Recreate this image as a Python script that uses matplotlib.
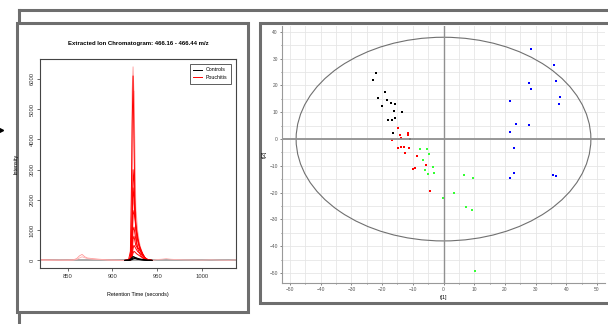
import matplotlib.pyplot as plt
from matplotlib.patches import Rectangle, Ellipse
from matplotlib.lines import Line2D

W, H = 608, 324

# --- chromatogram data ---
peak_t = [914, 918, 920, 921, 922, 923, 924, 925, 926, 927, 928, 930, 932, 934, 936, 938, 940, 944]
light_traces = [
    [0, 20, 200, 1500, 5600, 6400, 5500, 3800, 1800, 900, 600, 400, 250, 150, 80, 40, 20, 0],
    [0, 10, 100, 800, 2500, 4500, 5600, 2200, 1500, 1100, 800, 500, 300, 200, 100, 50, 20, 0],
    [0, 10, 60, 300, 900, 1800, 2000, 1700, 1600, 1400, 1000, 600, 350, 200, 100, 50, 20, 0],
]
red_traces = [
    [0, 30, 300, 2000, 4500, 6100, 4000, 2000, 1000, 600, 400, 250, 150, 80, 40, 20, 10, 0],
    [0, 10, 100, 500, 1500, 3000, 2600, 1800, 1200, 900, 700, 450, 300, 200, 100, 50, 20, 0],
    [0, 10, 80, 300, 1200, 2400, 2100, 1500, 1200, 1000, 800, 500, 350, 200, 100, 50, 20, 0],
    [0, 5, 50, 200, 700, 1500, 1650, 1400, 1100, 900, 700, 450, 300, 150, 80, 40, 20, 0],
    [0, 5, 40, 150, 500, 1000, 1100, 900, 700, 550, 450, 350, 250, 150, 80, 40, 10, 0],
    [0, 5, 30, 100, 300, 700, 800, 650, 500, 450, 400, 380, 300, 200, 100, 50, 10, 0],
    [0, 5, 20, 80, 200, 400, 500, 450, 400, 350, 300, 250, 200, 150, 80, 40, 10, 0],
    [0, 0, 10, 40, 120, 250, 300, 280, 250, 220, 200, 160, 120, 80, 50, 20, 10, 0],
]
black_traces = [
    [0, 5, 20, 40, 60, 80, 90, 100, 90, 80, 70, 50, 40, 30, 20, 10, 5, 0],
    [0, 0, 10, 20, 30, 50, 60, 70, 60, 50, 40, 30, 20, 15, 10, 5, 0, 0],
    [0, 10, 40, 70, 100, 130, 120, 100, 80, 60, 50, 40, 30, 20, 10, 5, 0, 0],
]
base_t = [820, 830, 840, 850, 856, 860, 863, 866, 869, 872, 878, 885, 895, 905, 914]
base_pink = [30, 20, 10, 15, 20, 60, 150, 200, 120, 80, 60, 40, 20, 10, 0]
base_pink2 = [0, 0, 10, 5, 10, 30, 80, 120, 90, 60, 40, 30, 10, 5, 0]
tail_t = [944, 950, 955, 960, 965, 970, 980, 990, 1000, 1010, 1020, 1030, 1038]
tail_pink = [0, 30, 40, 60, 40, 30, 20, 15, 10, 20, 10, 5, 20]

# --- score plot data ---
black_x = [-23.0, -22.1, -21.2, -20.0, -19.2, -18.5, -18.2, -17.2, -16.8, -16.3, -16.0, -15.9, -15.8, -13.5, -10.9]
black_y = [21.9, 24.5, 15.5, 12.3, 17.7, 14.6, 7.3, 13.5, 7.2, 2.1, 10.5, 7.7, 13.0, 10.0, 0.0]
red_x = [-14.9, -14.2, -13.9, -16.7, -14.9, -13.9, -12.9, -12.4, -11.5, -11.4, -11.2, -8.7, -9.9, -9.3, -5.8, -4.3]
red_y = [4.3, 1.6, 0.5, -0.4, -3.5, -3.1, -3.1, -5.1, 2.1, 1.6, -3.2, -6.3, -11.2, -10.8, -9.5, -19.5]
green_x = [-7.6, -5.4, -4.7, -6.7, -3.5, -6.0, -5.0, -3.0, 6.8, 9.6, 3.5, -0.1, 7.3, 9.3, 10.2]
green_y = [-3.6, -3.6, -5.6, -7.9, -10.4, -11.6, -12.9, -12.6, -13.5, -14.4, -20.3, -21.8, -25.3, -26.4, -49.1]
blue_x = [28.5, 35.9, 36.7, 27.8, 28.4, 38.0, 37.7, 21.5, 23.6, 27.7, 21.6, 22.9, 22.9, 21.5, 35.8, 36.7]
blue_y = [33.8, 27.8, 21.8, 21.1, 18.8, 15.7, 13.0, 14.3, 5.8, 5.1, 2.5, -3.3, -12.8, -14.6, -13.4, -13.9]
ellipse_a, ellipse_b = 48, 38


def box(x0, y0, x1, y1):
    return [x0 / W, 1 - y1 / H, (x1 - x0) / W, (y1 - y0) / H]


fig = plt.figure(figsize=(W / 100, H / 100), dpi=100)
plt.rcParams['font.family'] = ['Liberation Sans Narrow', 'Liberation Sans', 'DejaVu Sans']

# frame decorations (kept under the axes)
frame = '#6e6e6e'
fig.add_artist(Line2D([19 / W, 1], [1 - 10 / H] * 2, color=frame, lw=2.2, zorder=-3))
fig.add_artist(Line2D([19 / W] * 2, [1 - 10 / H, 0], color=frame, lw=2.2, zorder=-3))
fig.add_artist(Rectangle((17 / W, 1 - 312 / H), 231 / W, 289 / H, transform=fig.transFigure,
                         facecolor='white', edgecolor=frame, lw=2.2, zorder=-2))
fig.add_artist(Rectangle((260 / W, 1 - 303 / H), 352 / W, 280 / H, transform=fig.transFigure,
                         facecolor='white', edgecolor=frame, lw=2.2, zorder=-2))
fig.add_artist(Line2D([1 / W], [1 - 130 / H], marker='>', color='black', ms=3,
                      transform=fig.transFigure, zorder=-1))

# --- left: chromatogram ---
ax1 = fig.add_axes(box(40, 59, 236, 268))
ax1.plot([820, 1038], [0, 0], color='#999999', lw=1.2)
ax1.plot(base_t, base_pink, color='#ff9a9a', lw=0.6)
ax1.plot(base_t, base_pink2, color='#ffb0b0', lw=0.6)
ax1.plot(tail_t, tail_pink, color='#ffb0b0', lw=0.6)
for tr in light_traces:
    ax1.plot(peak_t, tr, color='#ff8080', lw=0.7, alpha=0.7)
for tr in red_traces:
    ax1.plot(peak_t, tr, color='#ff0000', lw=0.7)
for tr in black_traces:
    ax1.plot(peak_t, tr, color='black', lw=0.8)
ax1.plot([], [], color='black', lw=0.7, label='Controls')
ax1.plot([], [], color='#ff0000', lw=0.7, label='Pouchitis')
ax1.set_xlim(819, 1038)
ax1.set_ylim(-250, 6660)
ax1.set_xticks([850, 900, 950, 1000])
ax1.set_yticks(range(0, 7000, 1000))
ax1.tick_params(labelsize=4.2, length=2, width=0.5, pad=2, colors='#333333')
for lab in ax1.get_yticklabels():
    lab.set_rotation(90)
    lab.set_va('center')
for s in ax1.spines.values():
    s.set_linewidth(0.8)
    s.set_color('#444444')
ax1.set_title('Extracted Ion Chromatogram: 466.16 - 466.44 m/z', fontsize=4.3, fontweight='bold', pad=10)
ax1.set_xlabel('Retention Time (seconds)', fontsize=3.9, labelpad=10)
ax1.set_ylabel('Intensity', fontsize=3.9, labelpad=8)
leg = ax1.legend(loc='upper right', fontsize=3.8, frameon=True, fancybox=False,
                 handlelength=1.6, borderpad=0.7, labelspacing=0.5, borderaxespad=0.9)
leg.get_frame().set_edgecolor('#333333')
leg.get_frame().set_linewidth(0.7)

# --- right: score plot ---
ax2 = fig.add_axes(box(282, 26, 605, 283))
ax2.set_xlim(-52.6, 52.6)
ax2.set_ylim(-53.7, 42.2)
ax2.set_xticks(range(-50, 60, 10))
ax2.set_yticks(range(-50, 50, 10))
ax2.set_xticks(range(-50, 55, 5), minor=True)
ax2.set_yticks(range(-50, 45, 5), minor=True)
ax2.grid(True, which='both', color='#e6e6e6', lw=0.6)
ax2.set_axisbelow(True)
ax2.axhline(0, color='#909090', lw=1.3)
ax2.axvline(0, color='#909090', lw=1.0)
ax2.add_patch(Ellipse((0, 0), 2 * ellipse_a, 2 * ellipse_b, fill=False, edgecolor='#707070', lw=0.8))
ms = 4
ax2.scatter(black_x, black_y, s=ms, color='black', marker='s', lw=0)
ax2.scatter(red_x, red_y, s=ms, color='#ff0000', marker='s', lw=0)
ax2.scatter(green_x, green_y, s=ms, color='#33ff33', marker='s', lw=0)
ax2.scatter(blue_x, blue_y, s=ms, color='#0000ff', marker='s', lw=0)
ax2.tick_params(which='both', labelsize=3.5, length=1.5, width=0.5, pad=1.5, colors='#555555')
ax2.tick_params(which='minor', length=1)
for side in ['top', 'right']:
    ax2.spines[side].set_visible(False)
for side in ['left', 'bottom']:
    ax2.spines[side].set_color('#999999')
    ax2.spines[side].set_linewidth(0.8)
ax2.set_xlabel('t[1]', fontsize=3.8, labelpad=2)
ax2.set_ylabel('t[2]', fontsize=3.8, labelpad=2)

fig.savefig('out.png', dpi=100)
